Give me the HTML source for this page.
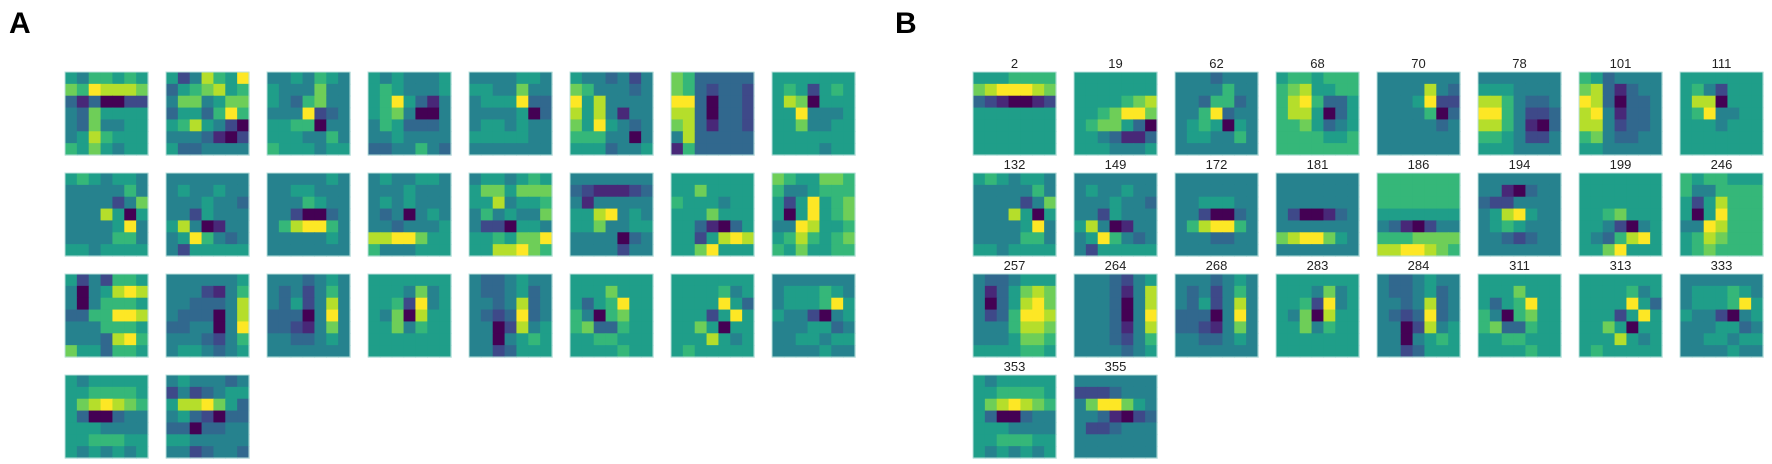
<!DOCTYPE html>
<html><head><meta charset="utf-8">
<style>
html,body{margin:0;padding:0;background:#fff;}
svg{display:block;}
text{font-family:"Liberation Sans",sans-serif;}
</style></head>
<body>
<svg id="fig" width="1772" height="464" viewBox="0 0 1772 464" xmlns="http://www.w3.org/2000/svg">
<text x="9" y="33" font-size="30" font-weight="bold">A</text>
<text x="895" y="33" font-size="30" font-weight="bold">B</text>
<g id="panelA"></g>
<g id="panelB"></g>
</svg>
<script>
const viridis = ["#440154","#482878","#3e4989","#31688e","#26828e","#1f9e89","#35b779","#6ece58","#b5de2b","#fde725"];

const tilesA = [
["5466565","7698887","3130022","4375555","4374455","4586555","6575455"],
["5248659","3567856","4774577","3553696","5685420","4443102","5334444"],
["4454654","5444744","5436744","4449234","5566044","5554464","6555455"],
["5454445","5654445","5695314","5674004","4653334","4454444","3344643"],
["4444554","5544744","4555933","4444503","4554544","5555544","4444444"],
["5443424","7644434","9584444","8584144","7595434","6664404","5553445"],
["7633333","7632332","9930332","8830332","7831332","4833333","1633333"],
["5555555","5652565","5870555","5594445","5574455","5555555","5555455"],
["5654554","4444464","4444247","4448505","4444594","4444664","5545555"],
["4444444","4544544","4445443","4425444","5840144","4596434","4255555"],
["4444454","4455444","4446544","4420034","4689964","4444454","4444444"],
["4544554","4445444","4545444","4340454","4434445","8899755","6444555"],
["4554565","5775777","5584556","4645447","4220554","5565779","5588976"],
["4444444","3211123","4144444","5589454","5574455","4444034","4444244"],
["5555555","5575555","6555455","5557555","5531035","5525898","5579555"],
["7655776","6445666","5259567","5059567","4498556","5686567","6575566"],
["5242665","4045898","4046665","3366998","4446665","4443896","7553665"],
["4444445","4442146","4433348","4333048","3344049","4443246","4554345"],
["4443454","4342464","4352484","3330494","3321474","4433454","4444444"],
["5555555","5554745","5562945","5470855","5574655","5555555","5555555"],
["4334544","4334534","4434834","4323934","4402845","4404565","4423555"],
["5555555","5557555","5356955","6406755","6733655","5566555","5555655"],
["5555555","5555645","5555953","5552595","5575055","5558545","5655555"],
["4444444","4555654","4555695","5442045","4445534","4455455","4444544"],
["5455555","5566665","5789876","5300344","5554444","5566655","5454545"],
["4544434","2423455","5889753","4532033","3303344","5544444","4423443"]
];

const labelsB = ["2","19","62","68","70","78","101","111","132","149","172","181","186","194","199","246","257","264","268","283","284","311","313","333","353","355"];

const tilesB = [
["5556666","7899987","3210012","5555555","5555555","5555555","5555555"],
["5555555","5555555","5555678","5567997","5677530","5543113","5554445"],
["4443444","4444644","4436634","4469344","4565054","4554464","4444444"],
["5665666","6785566","6896335","6885035","6675345","6666556","6666666"],
["4444444","4444843","4445922","4444603","4444434","4444444","4444444"],
["4444444","5554444","8864334","9964223","8864103","6654224","5554444"],
["6534444","7831344","9830334","8941334","8842334","6743344","5544444"],
["5555555","5642555","5880555","5694455","5554555","5555555","5555555"],
["5654554","4444464","4444247","4448505","4444594","4444664","5545555"],
["4444444","4544544","4445443","4425444","5840144","4596434","4255555"],
["4444444","4444444","4455544","4420034","4689964","4443344","4444444"],
["4444444","4444444","4444444","4200134","4444444","7899754","4444444"],
["6666666","6666666","6666666","5555555","4310244","6667777","8899876"],
["4444444","4410344","3224444","4589544","4565444","4432344","4444444"],
["5555555","5555555","5555555","5567555","5542045","5436895","5579555"],
["6566555","6446666","5258666","5059666","4498666","5687666","5676666"],
["4334555","4135787","4035897","4236998","4446887","4445776","5555665"],
["4443245","4443148","4443048","4443049","4443148","4443246","4444345"],
["4443454","4342464","4352484","3330494","3321474","4433454","4444444"],
["5555555","5554745","5562945","5470855","5574655","5555555","5555555"],
["4334544","4334534","4434834","4323934","4402845","4404565","4423555"],
["5555555","5557555","5356955","6406755","6733655","5566555","5555655"],
["5555555","5555645","5555953","5552595","5575055","5558545","5655555"],
["4444444","4555654","4555695","5442045","4445534","4455455","4444544"],
["5455555","5566665","5789876","5300344","5554444","5566655","5454545"],
["4444444","2223444","4799754","4431023","4223444","4444444","4444444"]
];

const NS = "http://www.w3.org/2000/svg";
const TILE = 83, PITCH = 101, COLS = 8, ROW0 = 72;
function colX(x0, i){ return x0 + (i % COLS) * PITCH; }
function rowY(i){ return ROW0 + Math.floor(i / COLS) * PITCH; }

function drawPanel(g, tiles, x0, labels){
  tiles.forEach((t, i) => {
    const tx = colX(x0, i), ty = rowY(i);
    const tg = document.createElementNS(NS, "g");
    
    
    const cs = TILE / 7;
    t.forEach((row, r) => {
      for (let c = 0; c < 7; c++) {
        const rc = document.createElementNS(NS, "rect");
        
        
        rc.setAttribute("x", (tx + c * cs).toFixed(2));
        rc.setAttribute("y", (ty + r * cs).toFixed(2));
        rc.setAttribute("width", (cs + 0.6).toFixed(2));
        rc.setAttribute("height", (cs + 0.6).toFixed(2));
        rc.setAttribute("fill", viridis[+row[c]]);
        tg.appendChild(rc);
      }
    });
    const br = document.createElementNS(NS, "rect");
    
    
    br.setAttribute("x", tx); br.setAttribute("y", ty);
    br.setAttribute("width", TILE); br.setAttribute("height", TILE);
    br.setAttribute("fill", "none"); br.setAttribute("stroke", "#b8e0dc"); br.setAttribute("stroke-width", "1");
    tg.appendChild(br);
    if (labels) {
      const tx2 = document.createElementNS(NS, "text");
      
      
      tx2.setAttribute("x", tx + TILE / 2);
      tx2.setAttribute("y", ty - 4);
      tx2.setAttribute("text-anchor", "middle");
      tx2.setAttribute("font-size", "13");
      tx2.setAttribute("fill", "#222");
      tx2.textContent = labels[i];
      tg.appendChild(tx2);
    }
    g.appendChild(tg);
  });
}
drawPanel(document.getElementById("panelA"), tilesA, 65, null);
drawPanel(document.getElementById("panelB"), tilesB, 973, labelsB);
</script>
</body></html>
